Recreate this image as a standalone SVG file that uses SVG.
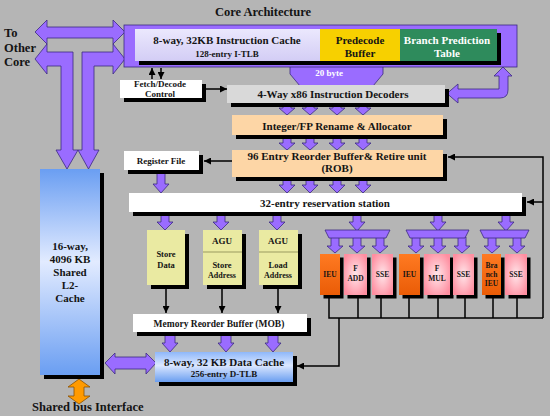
<svg xmlns="http://www.w3.org/2000/svg" width="550" height="416" viewBox="0 0 550 416">
<defs>
<style>
.t{font-family:"Liberation Serif","Times New Roman",serif;font-weight:bold;fill:#141414;text-anchor:middle}
.s{text-anchor:start}
.w{fill:#fff}
.p{fill:#9a6cff;stroke:#3b2a80;stroke-width:0.8;stroke-linejoin:round}
.sh{fill:#000}
.ln{stroke:#000;stroke-width:1.5;fill:none}
.la{stroke:#000;stroke-width:1.5;fill:none;marker-end:url(#ah)}
.wb{fill:#fff}
.peach{fill:#fdd6a6}
.ls{fill:#eaeaa2}
.ieu{fill:url(#gOr)}
.pk{fill:url(#gPk)}
</style>
<marker id="ah" viewBox="0 0 10 10" refX="10" refY="5" markerWidth="7" markerHeight="7" markerUnits="userSpaceOnUse" orient="auto"><path d="M0,0L10,5L0,10Z" fill="#000"/></marker>
<linearGradient id="gL2" x1="0" y1="0" x2="0" y2="1"><stop offset="0" stop-color="#6a9ef2"/><stop offset="0.45" stop-color="#e2ebff"/><stop offset="1" stop-color="#6a9ef2"/></linearGradient>
<linearGradient id="gDC" x1="0" y1="0" x2="0" y2="1"><stop offset="0" stop-color="#8fb8fa"/><stop offset="0.45" stop-color="#dbe7ff"/><stop offset="1" stop-color="#6a9ef0"/></linearGradient>
<linearGradient id="gIC" x1="0" y1="0" x2="0" y2="1"><stop offset="0" stop-color="#ebe8fd"/><stop offset="1" stop-color="#d3cdf5"/></linearGradient>
<linearGradient id="gOr" x1="0" y1="0" x2="0" y2="1"><stop offset="0" stop-color="#ff7a22"/><stop offset="1" stop-color="#ea5c06"/></linearGradient>
<radialGradient id="gPk" cx="0.5" cy="0.5" r="0.6"><stop offset="0" stop-color="#ffe6ea"/><stop offset="1" stop-color="#ff8ea0"/></radialGradient>
</defs>
<rect width="550" height="416" fill="#b5b5b5"/>

<g id="connectors">
<path class="p" d="M35,32L47,20V27H113V20L125,32L113,44V38H47V44Z"/>
<path class="p" d="M35,59L47,44V52H73V150H78L67,169L56,150H61V66H47V74Z"/>
<path class="p" d="M125,59L113,44V52H82V150H78L88.5,169L99,150H94V66H113V74Z"/>
<path class="p" d="M503,67L512,76H508V90Q508,98 500,98H458V103L447,93.5L458,84V89H499V76H494Z"/>
<path class="p" d="M290,66H383V74L373,86H300L290,74Z"/>
<path class="p" d="M283,103H291V108H295L287,115L279,108H283Z"/>
<path class="p" d="M306,103H314V108H318L310,115L302,108H306Z"/>
<path class="p" d="M333,103H341V108H345L337,115L329,108H333Z"/>
<path class="p" d="M359,103H367V108H371L363,115L355,108H359Z"/>
<path class="p" d="M283,135H291V143H295L287,150L279,143H283Z"/>
<path class="p" d="M306,135H314V143H318L310,150L302,143H306Z"/>
<path class="p" d="M333,135H341V143H345L337,150L329,143H333Z"/>
<path class="p" d="M359,135H367V143H371L363,150L355,143H359Z"/>
<path class="p" d="M283,177H291V185H295L287,193L279,185H283Z"/>
<path class="p" d="M306,177H314V185H318L310,193L302,185H306Z"/>
<path class="p" d="M333,177H341V185H345L337,193L329,185H333Z"/>
<path class="p" d="M359,177H367V185H371L363,193L355,185H359Z"/>
<path class="p" d="M157,170H165V184H169L161,193L153,184H157Z"/>
<path class="p" d="M161,212H169V222H173L165,230L157,222H161Z"/>
<path class="p" d="M217,212H225V222H229L221,230L213,222H217Z"/>
<path class="p" d="M273,212H281V222H285L277,230L269,222H273Z"/>
<path class="p" d="M353,212H361V222H365L357,231L349,222H353Z"/>
<path class="p" d="M434,212H442V222H446L438,231L430,222H434Z"/>
<path class="p" d="M502,212H510V222H514L506,231L498,222H502Z"/>
<path class="p" d="M331,237H339V246H343L335,253L327,246H331Z"/>
<path class="p" d="M353,237H361V246H365L357,253L349,246H353Z"/>
<path class="p" d="M376,237H384V246H388L380,253L372,246H376Z"/>
<path class="p" d="M412,237H420V246H424L416,253L408,246H412Z"/>
<path class="p" d="M434,237H442V246H446L438,253L430,246H434Z"/>
<path class="p" d="M458,237H466V246H470L462,253L454,246H458Z"/>
<path class="p" d="M488,237H496V246H500L492,253L484,246H488Z"/>
<path class="p" d="M513,237H521V246H525L517,253L509,246H513Z"/>
<path class="p" d="M325,230H390L386,238H329Z"/>
<path class="p" d="M406,230H469L465,238H410Z"/>
<path class="p" d="M480,230H529L525,238H484Z"/>
<path class="p" d="M165,332H175V343H178L170,352L162,343H165Z"/>
<path class="p" d="M221,332H231V343H234L226,352L218,343H221Z"/>
<path class="p" d="M268,332H278V343H281L273,352L265,343H268Z"/>
<path class="p" d="M105,363L115,353V357H146V353L156,363L146,374V369H115V374Z"/>
<path d="M79,379L90,387H84V396H90L79,404L68,396H74V387H68Z" fill="#ff9a00" stroke="#8a5000" stroke-width="0.8"/>
<line class="la" x1="152" y1="79" x2="152" y2="68"/>
<line class="la" x1="161" y1="68" x2="161" y2="79"/>
<line class="la" x1="206" y1="89" x2="227" y2="89"/>
<line class="la" x1="232" y1="161" x2="204" y2="161"/>
<line class="la" x1="166" y1="289" x2="166" y2="313"/>
<line class="la" x1="222" y1="289" x2="222" y2="313"/>
<line class="la" x1="278" y1="289" x2="278" y2="313"/>
<path class="la" d="M543,318V157H448"/>
<path class="la" d="M543,202H527"/>
<path class="ln" d="M329,296V318H543"/>
<path class="ln" d="M358,296V318M381,296V318M409,296V318M438,296V318M465,296V318M493,296V318M517,296V318"/>
<path class="la" d="M339,318V366H297"/>
</g>

<g id="title"><text class="t" x="263" y="16" font-size="12.5">Core Architecture</text></g>
<g id="to-other-core">
<text class="t s" x="4" y="37" font-size="12.5">To</text>
<text class="t s" x="4" y="52" font-size="12.5">Other</text>
<text class="t s" x="4" y="66" font-size="12.5">Core</text>
</g>

<g id="front-end-frame">
<rect x="124" y="25" width="393" height="42" fill="#9a6cff" stroke="#3b2a80" stroke-width="0.8"/>
<rect class="sh" x="139" y="33" width="362" height="32"/>
<text class="t w" x="329" y="76" font-size="9">20 byte</text>
</g>
<g id="icache">
<rect x="135" y="29" width="185" height="32" fill="url(#gIC)"/>
<text class="t" x="227" y="44" font-size="11">8-way, 32KB Instruction Cache</text>
<text class="t" x="227" y="57" font-size="9">128-entry I-TLB</text>
</g>
<g id="predecode">
<rect x="320" y="29" width="80" height="32" fill="#f7d000"/>
<text class="t" x="360" y="44" font-size="11">Predecode</text>
<text class="t" x="360" y="57" font-size="11">Buffer</text>
</g>
<g id="branch-prediction">
<rect x="400" y="29" width="97" height="32" fill="#2e8b5c"/>
<text class="t w" x="447" y="44" font-size="11">Branch Prediction</text>
<text class="t w" x="447" y="57" font-size="11">Table</text>
</g>

<g id="fetch-decode">
<rect class="sh" x="124" y="84" width="82" height="18"/>
<rect class="wb" x="120" y="80" width="82" height="18"/>
<text class="t" x="160" y="87" font-size="9">Fetch/Decode</text>
<text class="t" x="160" y="97" font-size="9">Control</text>
</g>
<g id="decoders">
<rect class="sh" x="231" y="89" width="218" height="18"/>
<rect x="227" y="85" width="218" height="18" fill="#d9d9d9"/>
<text class="t" x="333" y="98" font-size="11">4-Way x86 Instruction Decoders</text>
</g>
<g id="rename">
<rect class="sh" x="236" y="119" width="211" height="20"/>
<rect class="peach" x="232" y="115" width="211" height="20"/>
<text class="t" x="337" y="130" font-size="11">Integer/FP Rename &amp; Allocator</text>
</g>
<g id="rob">
<rect class="sh" x="236" y="154" width="211" height="27"/>
<rect class="peach" x="232" y="150" width="211" height="27"/>
<text class="t" x="337" y="160" font-size="11">96 Entry Reorder Buffer&amp; Retire unit</text>
<text class="t" x="337" y="172" font-size="11">(ROB)</text>
</g>
<g id="register-file">
<rect class="sh" x="128" y="155" width="75" height="19"/>
<rect class="wb" x="124" y="151" width="75" height="19"/>
<text class="t" x="161" y="164" font-size="9">Register File</text>
</g>
<g id="reservation-station">
<rect class="sh" x="133" y="197" width="393" height="19"/>
<rect class="wb" x="129" y="193" width="393" height="19"/>
<text class="t" x="325" y="207" font-size="11">32-entry reservation station</text>
</g>

<g id="store-data">
<rect class="sh" x="151" y="234" width="38" height="55"/>
<rect class="ls" x="147" y="230" width="38" height="55"/>
<text class="t" x="166" y="257" font-size="8.5">Store</text>
<text class="t" x="166" y="268" font-size="8.5">Data</text>
</g>
<g id="agu-store">
<rect class="sh" x="207" y="234" width="39" height="55"/>
<rect class="ls" x="203" y="230" width="39" height="55"/>
<line x1="203" y1="252" x2="242" y2="252" stroke="#9a9a60" stroke-width="1.2"/>
<text class="t" x="222" y="244" font-size="9">AGU</text>
<text class="t" x="222" y="268" font-size="8.5">Store</text>
<text class="t" x="222" y="278" font-size="8">Address</text>
</g>
<g id="agu-load">
<rect class="sh" x="263" y="234" width="39" height="55"/>
<rect class="ls" x="259" y="230" width="39" height="55"/>
<line x1="259" y1="252" x2="298" y2="252" stroke="#9a9a60" stroke-width="1.2"/>
<text class="t" x="278" y="244" font-size="9">AGU</text>
<text class="t" x="278" y="268" font-size="8.5">Load</text>
<text class="t" x="278" y="278" font-size="8">Address</text>
</g>

<g id="ieu1">
<rect class="sh" x="323.5" y="257.5" width="20" height="41"/>
<rect class="ieu" x="320" y="254" width="20" height="41"/>
<text class="t" x="330" y="277" font-size="7.5">IEU</text>
</g>
<g id="fadd">
<rect class="sh" x="347.5" y="257.5" width="23" height="41"/>
<rect class="pk" x="344" y="254" width="23" height="41"/>
<text class="t" x="355.5" y="271" font-size="7.5">F</text>
<text class="t" x="355.5" y="281" font-size="7.5">ADD</text>
</g>
<g id="sse1">
<rect class="sh" x="375.5" y="257.5" width="21" height="41"/>
<rect class="pk" x="372" y="254" width="21" height="41"/>
<text class="t" x="382.5" y="277" font-size="7.5">SSE</text>
</g>
<g id="ieu2">
<rect class="sh" x="402.5" y="257.5" width="21" height="41"/>
<rect class="ieu" x="399" y="254" width="21" height="41"/>
<text class="t" x="409.5" y="277" font-size="7.5">IEU</text>
</g>
<g id="fmul">
<rect class="sh" x="427.5" y="257.5" width="26" height="41"/>
<rect class="pk" x="424" y="254" width="26" height="41"/>
<text class="t" x="437" y="271" font-size="7.5">F</text>
<text class="t" x="437" y="281" font-size="7.5">MUL</text>
</g>
<g id="sse2">
<rect class="sh" x="456.5" y="257.5" width="21" height="41"/>
<rect class="pk" x="453" y="254" width="21" height="41"/>
<text class="t" x="463.5" y="277" font-size="7.5">SSE</text>
</g>
<g id="branch-ieu">
<rect class="sh" x="485.5" y="257.5" width="19" height="41"/>
<rect class="ieu" x="482" y="254" width="19" height="41"/>
<text class="t" x="491.5" y="268" font-size="7.5">Bra</text>
<text class="t" x="491.5" y="277" font-size="7.5">nch</text>
<text class="t" x="491.5" y="286" font-size="7.5">IEU</text>
</g>
<g id="sse3">
<rect class="sh" x="508.5" y="257.5" width="22" height="41"/>
<rect class="pk" x="505" y="254" width="22" height="41"/>
<text class="t" x="516" y="277" font-size="7.5">SSE</text>
</g>

<g id="mob">
<rect class="sh" x="137" y="318" width="174" height="18"/>
<rect class="wb" x="133" y="314" width="174" height="18"/>
<text class="t" x="219" y="327" font-size="9.5">Memory Reorder Buffer (MOB)</text>
</g>
<g id="data-cache">
<rect class="sh" x="159" y="356" width="138" height="30"/>
<rect x="155" y="352" width="138" height="30" fill="url(#gDC)"/>
<text class="t" x="224" y="366" font-size="11">8-way, 32 KB Data Cache</text>
<text class="t" x="224" y="377" font-size="9">256-entry D-TLB</text>
</g>
<g id="l2-cache">
<rect class="sh" x="44" y="173" width="60" height="206"/>
<rect x="40" y="169" width="60" height="206" fill="url(#gL2)"/>
<text class="t" x="70" y="250" font-size="11">16-way,</text>
<text class="t" x="70" y="263" font-size="11">4096 KB</text>
<text class="t" x="70" y="276" font-size="11">Shared</text>
<text class="t" x="70" y="289" font-size="11">L2-</text>
<text class="t" x="70" y="302" font-size="11">Cache</text>
</g>
<g id="shared-bus"><text class="t s" x="32" y="411" font-size="12.5">Shared bus Interface</text></g>
</svg>
